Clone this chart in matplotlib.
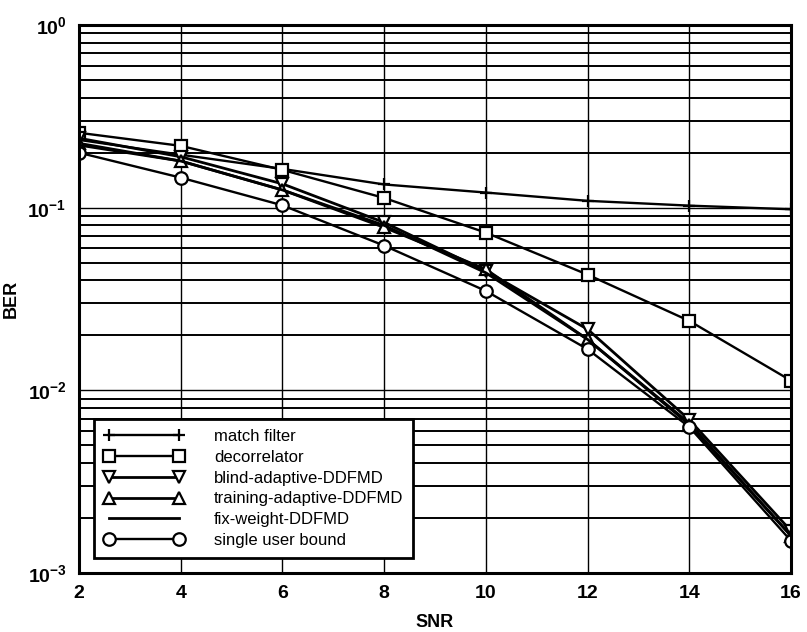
import matplotlib
matplotlib.use("Agg")
import matplotlib.pyplot as plt
from matplotlib.ticker import LogLocator, FixedLocator

plt.rcParams['font.family'] = ['Liberation Sans', 'DejaVu Sans']

snr = [2, 4, 6, 8, 10, 12, 14, 16]
match_filter = [0.235, 0.195, 0.163, 0.134, 0.121, 0.109, 0.1026, 0.098]
decorrelator = [0.257, 0.218, 0.161, 0.113, 0.073, 0.043, 0.024, 0.0113]
blind_adaptive = [0.24, 0.19, 0.135, 0.083, 0.045, 0.0216, 0.0069, 0.0017]
training_adaptive = [0.225, 0.18, 0.125, 0.078, 0.046, 0.019, 0.0065, 0.0016]
fix_weight = [0.22, 0.18, 0.125, 0.08, 0.044, 0.019, 0.0066, 0.0016]
single_user = [0.2, 0.146, 0.103, 0.062, 0.035, 0.0168, 0.0063, 0.0015]

labels = ['match filter', 'decorrelator', 'blind-adaptive-DDFMD',
          'training-adaptive-DDFMD', 'fix-weight-DDFMD', 'single user bound']
xticks = [2, 4, 6, 8, 10, 12, 14, 16]

fig = plt.figure(figsize=(8.07, 6.32), dpi=100)
ax = fig.add_axes([79/807, 1 - 573/632, (791-79)/807, (573-25)/632])

kw = dict(color='black', markerfacecolor='white', markeredgecolor='black',
          markeredgewidth=1.6, markersize=9)
ax.plot(snr, match_filter, marker='+', lw=1.7, label=labels[0], **kw)
ax.plot(snr, decorrelator, marker='s', lw=1.7, label=labels[1], **kw)
ax.plot(snr, blind_adaptive, marker='v', lw=2.0, label=labels[2], **kw)
ax.plot(snr, training_adaptive, marker='^', lw=2.0, label=labels[3], **kw)
ax.plot(snr, fix_weight, lw=2.0, color='black', label=labels[4])
ax.plot(snr, single_user, marker='o', lw=1.7, label=labels[5], **kw)

ax.set_yscale('log')
ax.set_xlim(2, 16)
ax.set_ylim(1e-3, 1)
ax.xaxis.set_major_locator(FixedLocator(xticks))
ax.yaxis.set_major_locator(LogLocator(base=10, numticks=10))
ax.yaxis.set_minor_locator(LogLocator(base=10, subs=range(2, 10), numticks=10))
ax.grid(True, which='major', color='black', lw=1.0)
ax.grid(True, which='minor', axis='y', color='black', lw=1.4)
ax.tick_params(which='both', length=0, labelsize=14, pad=9)
for t in ax.get_xticklabels() + ax.get_yticklabels():
    t.set_fontweight('bold')
for s in ax.spines.values():
    s.set_linewidth(2.2)

ax.set_xlabel('SNR', fontsize=13, fontweight='bold', labelpad=8)
ax.set_ylabel('BER', fontsize=13, fontweight='bold')
ax.yaxis.set_label_coords(-0.083, 0.5)

leg = ax.legend(loc='lower left', numpoints=2, fontsize=12, frameon=True,
                fancybox=False, edgecolor='black', framealpha=1,
                handlelength=4.8, borderaxespad=0.9, labelspacing=0.35,
                handletextpad=1.8, borderpad=0.6)
leg.get_frame().set_linewidth(2.0)

fig.savefig('out.png', dpi=100)
